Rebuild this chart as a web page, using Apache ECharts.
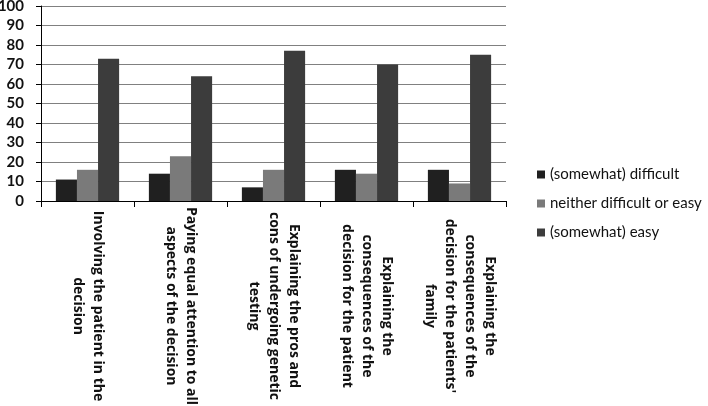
<!DOCTYPE html>
<html lang="en">
  <head>
    <meta charset="UTF-8" />
    <title>Difficulty of decision aspects</title>
    <style>
      html,
      body {
        margin: 0;
        width: 100%;
        height: 100%;
        background: #fff;
        overflow: hidden;
      }
      #main {
        width: 708px;
        height: 406px;
      }
    </style>
  </head>
  <body>
    <div id="main"></div>
    <script src="https://cdn.jsdelivr.net/npm/echarts@6/dist/echarts.min.js"></script>
    <script>
      // categories (line breaks as in the original wrapped labels)
      const categories = [
        "Involving the patient in the\ndecision",
        "Paying equal attention to all\naspects of the decision",
        "Explaining the pros and\ncons of undergoing genetic\ntesting",
        "Explaining the\nconsequences of the\ndecision for the patient",
        "Explaining the\nconsequences of the\ndecision for the patients'\nfamily",
      ];
      const difficult = [11, 14, 7, 16, 16];
      const neither = [16, 23, 16, 14, 9];
      const easy = [73, 64, 77, 70, 75];
      const seriesNames = [
        "(somewhat) difficult",
        "neither difficult or easy",
        "(somewhat) easy",
      ];

      const font = "Lato, 'Open Sans', sans-serif";

      const chart = echarts.init(document.getElementById("main"));
      chart.setOption({
        animation: false,
        backgroundColor: "#fff",
        color: ["#202020", "#7a7a7a", "#3c3c3c"],
        grid: {
          left: 41,
          right: 202,
          top: 6,
          bottom: 205,
          containLabel: false,
          outerBoundsMode: "none",
        },
        legend: {
          orient: "vertical",
          left: 532,
          top: 162,
          icon: "rect",
          itemWidth: 8,
          itemHeight: 8,
          itemGap: 14,
          textStyle: { fontFamily: font, fontSize: 15, color: "#111" },
          data: seriesNames,
        },
        xAxis: {
          type: "category",
          data: categories,
          axisLine: { lineStyle: { color: "#000", width: 1 } },
          axisTick: { show: true, length: 6, lineStyle: { color: "#000" } },
          axisLabel: {
            interval: 0,
            rotate: -90,
            margin: 10,
            width: 190,
            formatter: (v) => "{a|" + v + "}",
            rich: {
              a: {
                align: "center",
                fontFamily: "'Open Sans', sans-serif",
                fontWeight: "bold",
                fontSize: 14,
                lineHeight: 20,
                color: "#111",
              },
            },
          },
        },
        yAxis: {
          type: "value",
          min: 0,
          max: 100,
          interval: 10,
          axisLine: { show: true, lineStyle: { color: "#000", width: 1 } },
          axisTick: { show: true, length: 5, lineStyle: { color: "#000" } },
          axisLabel: {
            margin: 17,
            fontFamily: font,
            fontWeight: "bold",
            fontSize: 15,
            color: "#111",
          },
          splitLine: { lineStyle: { color: "#808080", width: 1 } },
        },
        series: [
          { name: seriesNames[0], type: "bar", data: difficult, barGap: "0%", barCategoryGap: "32%" },
          { name: seriesNames[1], type: "bar", data: neither, barGap: "0%", barCategoryGap: "32%" },
          { name: seriesNames[2], type: "bar", data: easy, barGap: "0%", barCategoryGap: "32%" },
        ],
      });
    </script>
  </body>
</html>
